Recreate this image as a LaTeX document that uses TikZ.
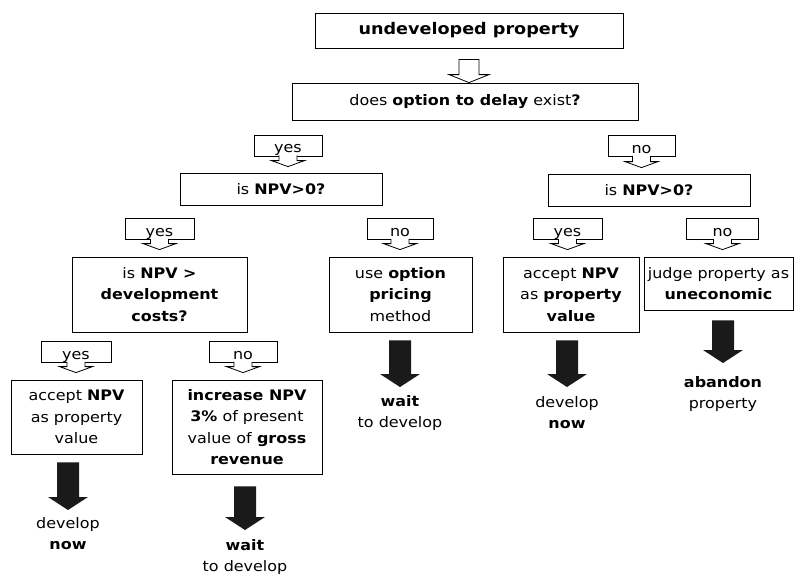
\documentclass[tikz,border=0pt]{standalone}
\usepackage{fontspec}
\setmainfont[FakeStretch=1.1]{DejaVu Sans}
\usetikzlibrary{calc}
\definecolor{arrowblack}{HTML}{1A1A1A}
% label box (empty), text placed later
\newcommand{\mklabel}[4]{\node[lblbox, minimum width=#4pt] (#1) at (#2,#3) {};}
\newcommand{\labtext}[2]{\node[anchor=base] (#1t) at ($(#1.south)+(0,-3.5)$) {#2};}
% hollow arrow: from, to, endgap, shafthalf, headhalf, headlen
\newcommand{\hollowarrow}[6]{%
  \coordinate (#1-s) at ($(#1.south)+(0,-1)$);
  \coordinate (#1-t) at ($(#1.south |- #2.north)+(0,-#3)$);
  \fill[white] ($(#1-s)+(-#4,0)$) -- ($(#1-t)+(-#4,-#6)$) -- ($(#1-t)+(-#5,-#6)$) -- (#1-t)
     -- ($(#1-t)+(#5,-#6)$) -- ($(#1-t)+(#4,-#6)$) -- ($(#1-s)+(#4,0)$) -- cycle;
  \draw[lineblack] ($(#1-s)+(-#4,0)$) -- ($(#1-t)+(-#4,-#6)$) -- ($(#1-t)+(-#5,-#6)$) -- (#1-t)
     -- ($(#1-t)+(#5,-#6)$) -- ($(#1-t)+(#4,-#6)$) -- ($(#1-s)+(#4,0)$);
}
% solid arrow: from, to, startgap, endgap
\newcommand{\solidarrow}[4]{%
  \coordinate (#1-bs) at ($(#2.north |- #1.south)+(0,#3)$);
  \coordinate (#1-bt) at ($(#2.north)+(0,-#4)$);
  \fill[arrowblack] ($(#1-bs)+(-11,0)$) -- ($(#1-bt)+(-11,-13)$) -- ($(#1-bt)+(-20,-13)$) -- (#1-bt)
     -- ($(#1-bt)+(20,-13)$) -- ($(#1-bt)+(11,-13)$) -- ($(#1-bs)+(11,0)$) -- cycle;
}
\begin{document}
\begin{tikzpicture}[x=1pt,y=-1pt,
  every node/.style={font=\fontsize{14.5}{21.5}\selectfont, inner sep=0pt},
  lineblack/.style={draw=black, line width=0.8pt, line join=miter},
  box/.style={lineblack, fill=white, align=center},
  lblbox/.style={lineblack, minimum height=21pt},
  outtext/.style={align=center, anchor=north}]
\useasboundingbox (0,0) rectangle (796,574);
\fill[white] (0,0) rectangle (796,574);

% boxes
\node[box, minimum width=308pt, minimum height=35pt, font=\fontsize{16}{20}\selectfont\bfseries] (top) at (469,30.5) {undeveloped property};
\node[box, minimum width=346pt, minimum height=37pt] (delay) at (465,101.5) {does \textbf{option to delay} exist\textbf{?}};
\node[box, minimum width=202pt, minimum height=32pt] (npvL) at (281,189) {is \textbf{NPV>0?}};
\node[box, minimum width=202pt, minimum height=32pt] (npvR) at (649,190) {is \textbf{NPV>0?}};
\node[box, minimum width=175pt, minimum height=75pt] (dev) at (159.5,294.5) {is \textbf{NPV >}\\ \textbf{development}\\ \textbf{costs?}};
\node[box, minimum width=143pt, minimum height=75pt] (opt) at (400.5,294.5) {use \textbf{option}\\ \textbf{pricing}\\ method};
\node[box, minimum width=136pt, minimum height=75pt] (accR) at (571,294.5) {accept \textbf{NPV}\\ as \textbf{property}\\ \textbf{value}};
\node[box, minimum width=149pt, minimum height=53pt] (judge) at (718.5,283.5) {judge property as\\ \textbf{uneconomic}};
\node[box, minimum width=131pt, minimum height=74pt] (accL) at (76.5,417) {accept \textbf{NPV}\\ as property\\ value};
\node[box, minimum width=150pt, minimum height=94pt] (inc) at (247,427) {\textbf{increase NPV}\\ \textbf{3\%} of present\\ value of \textbf{gross}\\ \textbf{revenue}};

% outcome texts
\node[outtext] (dnL) at (68,517) {develop\\ \textbf{now}};
\node[outtext] (waitL) at (245,539) {\textbf{wait}\\ to develop};
\node[outtext] (waitM) at (400,395) {\textbf{wait}\\ to develop};
\node[outtext] (dnR) at (567,396) {develop\\ \textbf{now}};
\node[outtext] (aband) at (723,376) {\textbf{abandon}\\ property};

% label boxes
\mklabel{y1}{288}{145.5}{68}
\mklabel{n1}{641.5}{146}{67}
\mklabel{yA}{159.5}{229}{69}
\mklabel{nB}{400}{229}{66}
\mklabel{yC}{567.5}{229}{69}
\mklabel{nD}{722.5}{229}{72}
\mklabel{yE}{76}{352}{70}
\mklabel{nF}{243}{352}{68}

% top hollow arrow
\coordinate (topS) at ($(top.south)+(0,11)$);
\coordinate (topT) at (top.south |- delay.north);
\filldraw[lineblack, fill=white] ($(topS)+(-10,0)$) -- ($(topT)+(-10,-8)$) -- ($(topT)+(-20,-8)$) -- (topT)
   -- ($(topT)+(20,-8)$) -- ($(topT)+(10,-8)$) -- ($(topS)+(10,0)$) -- cycle;

% label hollow arrows
\hollowarrow{y1}{npvL}{6}{9}{16.5}{6}
\hollowarrow{n1}{npvR}{6}{9}{16.5}{6}
\hollowarrow{yA}{dev}{7}{9}{16.5}{6}
\hollowarrow{nB}{opt}{7}{9}{16.5}{6}
\hollowarrow{yC}{accR}{7}{9}{16.5}{6}
\hollowarrow{nD}{judge}{7}{9}{16.5}{6}
\hollowarrow{yE}{accL}{7}{9}{16.5}{6}
\hollowarrow{nF}{inc}{7}{9}{16.5}{6}

% label texts
\labtext{y1}{yes}
\labtext{n1}{no}
\labtext{yA}{yes}
\labtext{nB}{no}
\labtext{yC}{yes}
\labtext{nD}{no}
\labtext{yE}{yes}
\labtext{nF}{no}

% solid arrows
\solidarrow{accL}{dnL}{8}{7}
\solidarrow{inc}{waitL}{12}{9}
\solidarrow{opt}{waitM}{8}{8}
\solidarrow{accR}{dnR}{8}{9}
\solidarrow{judge}{aband}{10}{13}
\end{tikzpicture}
\end{document}
